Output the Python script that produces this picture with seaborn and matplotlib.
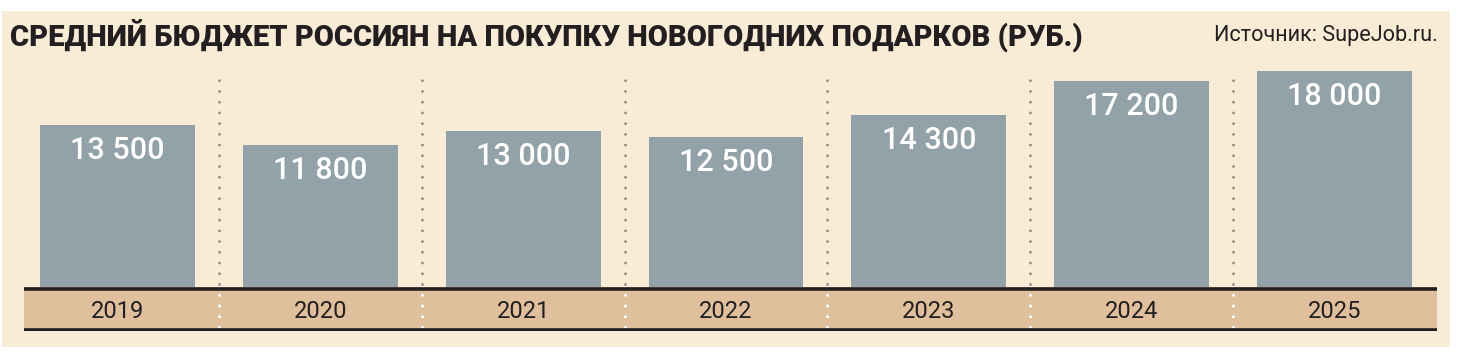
import matplotlib
matplotlib.use("Agg")
import matplotlib.pyplot as plt
import seaborn as sns
import pandas as pd
from matplotlib.patches import Rectangle

years = ["2019", "2020", "2021", "2022", "2023", "2024", "2025"]
values = [13500, 11800, 13000, 12500, 14300, 17200, 18000]
value_labels = ["13 500", "11 800", "13 000", "12 500", "14 300", "17 200", "18 000"]
title = "СРЕДНИЙ БЮДЖЕТ РОССИЯН НА ПОКУПКУ НОВОГОДНИХ ПОДАРКОВ (РУБ.)"
source = "Источник: SupeJob.ru."

W, H = 1464, 352
BG = "#f9ecd7"
BAR = "#93a1a8"
BAND = "#e0bf9c"
DARK = "#231f20"

sns.set_theme(style="white")
plt.rcParams["font.family"] = ["Roboto", "DejaVu Sans"]

fig = plt.figure(figsize=(W / 100, H / 100), dpi=100)
fig.patch.set_facecolor("white")

# beige panel
fig.patches.append(Rectangle((2 / W, 1 - 347 / H), (1450 - 2) / W, (347 - 11) / H,
                             transform=fig.transFigure, facecolor=BG, edgecolor="none", zorder=-5))

# axes: x pixels 24..1437, y pixels 331 (bottom) .. 60 (top)
ax_left, ax_right = 24, 1437
ax_bottom, ax_top = 331, 60
ax = fig.add_axes([ax_left / W, 1 - ax_bottom / H, (ax_right - ax_left) / W, (ax_bottom - ax_top) / H])
ax.set_facecolor("none")
ax.set_zorder(2)

px_per_unit = (287 - 125) / 13500.0
unit_per_px = 1 / px_per_unit
band_units = (331 - 287) * unit_per_px

df = pd.DataFrame({"year": years, "value": values})
sns.barplot(data=df, x="year", y="value", color=BAR, width=0.764, saturation=1,
            linewidth=0, edgecolor="none", ax=ax, zorder=2)

ax.set_ylim(-band_units, (287 - ax_top) * unit_per_px)
pitch = (1334.5 - 117.5) / 6
ax.set_xlim((ax_left - 117.5) / pitch, (ax_right - 117.5) / pitch)

# band
x0, x1 = ax.get_xlim()
ax.add_patch(Rectangle((x0, -band_units), x1 - x0, band_units,
                       facecolor=BAND, edgecolor="none", zorder=1))
ax.axhline(-1.5 * unit_per_px, color=DARK, lw=2.6, zorder=4)
ax.axhline(-band_units + 1.5 * unit_per_px, color=DARK, lw=2.6, zorder=4)

# dotted separators
top_dot = (287 - 72) * unit_per_px
gap_pt = 7.7
lw_g = 2.0
lw_w = 2.2
for i in range(len(years) - 1):
    xs = i + 0.5
    ax.plot([xs, xs], [3 * unit_per_px, top_dot], color="#8a8783", lw=lw_g,
            linestyle=(0, (0.01, gap_pt / lw_g)), dash_capstyle="round", zorder=3)
    ax.plot([xs, xs], [-band_units + 4 * unit_per_px, -5 * unit_per_px], color="white", lw=lw_w,
            linestyle=(0, (0.01, gap_pt / lw_w)), dash_capstyle="round", zorder=3)

for i, (v, lab) in enumerate(zip(values, value_labels)):
    ax.text(i, v - 25.5 * unit_per_px, lab, ha="center", va="center", color="white",
            fontsize=22, fontweight="medium", zorder=5)
    ax.text(i, -band_units / 2 - 2 * unit_per_px, years[i], ha="center", va="center", color=DARK,
            fontsize=17, zorder=5)

ax.set_xticks([])
ax.set_yticks([])
ax.set_xlabel("")
ax.set_ylabel("")
for s in ax.spines.values():
    s.set_visible(False)

fig.text(10 / W, 1 - 35 / H, title, ha="left", va="center", fontsize=21,
         fontweight="black", color=DARK)
fig.text(1438 / W, 1 - 35 / H, source, ha="right", va="center", fontsize=15.6, color=DARK)

fig.savefig("out.png", dpi=100, facecolor="white")
